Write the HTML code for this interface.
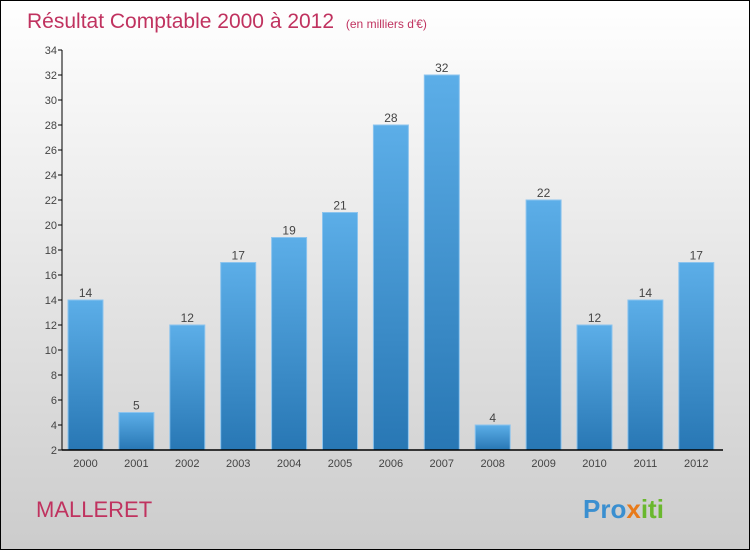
<!DOCTYPE html>
<html><head><meta charset="utf-8"><style>
body{margin:0;width:750px;height:550px;overflow:hidden;font-family:"Liberation Sans",sans-serif}
#wrap{position:absolute;left:0;top:0;width:748px;height:548px;border:1px solid #000;background:linear-gradient(#ffffff,#cccccc)}
</style></head><body>
<div id="wrap">
<svg width="748" height="548" id="svg">
<defs><linearGradient id="g" x1="0" y1="0" x2="0" y2="1"><stop offset="0" stop-color="#5caee8"/><stop offset="1" stop-color="#2877b4"/></linearGradient></defs>
<text x="26" y="27" font-size="21" fill="#c0325f">Résultat Comptable 2000 à 2012 <tspan font-size="12" dx="6">(en milliers d'€)</tspan></text>
<text x="35" y="516" font-size="22" fill="#c0325f">MALLERET</text>
<text x="582" y="517" font-size="26" font-weight="bold" fill="#3a8fd0">Pro<tspan fill="#e87a1a">x</tspan><tspan fill="#6ab82e">iti</tspan></text>
<g id="plot"></g>
</svg></div>
<script>
const years=["2000","2001","2002","2003","2004","2005","2006","2007","2008","2009","2010","2011","2012"];
const values=[14,5,12,17,19,21,28,32,4,22,12,14,17];
const ticks=[2,4,6,8,10,12,14,16,18,20,22,24,26,28,30,32,34];
const NS="http://www.w3.org/2000/svg";
const g=document.getElementById('plot');
const y=v=>449-(v-2)*12.5;
const x=i=>67+i*50.9;
function mk(t,a,txt){const e=document.createElementNS(NS,t);for(const k in a)e.setAttribute(k,a[k]);if(txt!=null)e.textContent=txt;g.appendChild(e);return e;}
ticks.forEach(t=>{
 const l=mk('line',{x1:57,x2:61,y1:y(t),y2:y(t),stroke:'#000'});
 
 
 const tx=mk('text',{x:56,y:y(t)+4,'text-anchor':'end','font-size':11,fill:'#444'},t);
 
 
});
values.forEach((v,i)=>{
 const r=mk('rect',{x:x(i),y:y(v),width:35,height:y(2)-y(v),fill:'url(#g)',stroke:'#8cc4ee','stroke-width':1});
 
 
 const lb=mk('text',{x:x(i)+17.5,y:y(v)-3,'text-anchor':'middle','font-size':12,fill:'#444'},v);
 
 
 const xl=mk('text',{x:x(i)+17.5,y:466,'text-anchor':'middle','font-size':11,fill:'#444'},years[i]);
 
 
});
const ya=mk('line',{x1:61,x2:61,y1:y(34),y2:y(2),stroke:'#000'});


const xa=mk('line',{x1:61,x2:722,y1:y(2),y2:y(2),stroke:'#000','stroke-width':1.5});


</script>
</body></html>
